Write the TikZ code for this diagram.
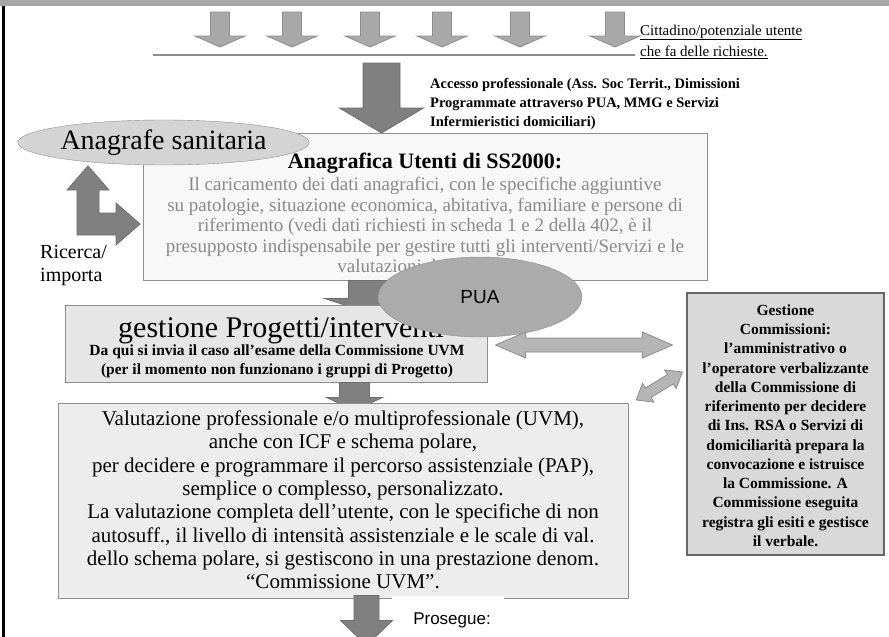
\documentclass[tikz,border=0pt]{standalone}
\usepackage{fontspec}
\setmainfont{Liberation Serif}
\setsansfont{Liberation Sans}
\usetikzlibrary{calc,shapes.geometric}

\definecolor{headerbar}{HTML}{A6A6A6}
\definecolor{lightarrow}{HTML}{A9A9A9}
\definecolor{lightarrowedge}{HTML}{8C8C8C}
\definecolor{darkarrow}{HTML}{808080}
\definecolor{darkarrowedge}{HTML}{6E6E6E}
\definecolor{ellfill}{HTML}{D4D4D4}
\definecolor{puafill}{HTML}{ABABAB}
\definecolor{boxedge}{HTML}{8F8F8F}
\definecolor{fadedtext}{HTML}{8A8A8A}
\definecolor{anagfill}{HTML}{F8F8F8}
\definecolor{gestfill}{HTML}{E6E6E6}
\definecolor{valfill}{HTML}{EDEDED}
\definecolor{commfill}{HTML}{D9D9D9}
\definecolor{dblfill}{HTML}{B5B5B5}

\tikzset{
  % downward block arrow: length, half shaft width, half head width, head length
  pics/vblock/.style n args={4}{code={
    \path[pic actions] (-#2,0) -- (#2,0) -- (#2,#1-#4) -- (#3,#1-#4) -- (0,#1)
      -- (-#3,#1-#4) -- (-#2,#1-#4) -- cycle;}},
  % two-headed block arrow along local x: length, half shaft, half head, head length
  pics/hdouble/.style n args={4}{code={
    \path[pic actions] (0,0) -- (#4,-#3) -- (#4,-#2) -- (#1-#4,-#2) -- (#1-#4,-#3)
      -- (#1,0) -- (#1-#4,#3) -- (#1-#4,#2) -- (#4,#2) -- (#4,#3) -- cycle;}},
  lightblock/.style={fill=lightarrow, draw=lightarrowedge, line width=0.8pt},
  darkblock/.style={fill=darkarrow, draw=darkarrowedge, line width=0.8pt},
  dblblock/.style={fill=dblfill, draw=lightarrowedge, line width=0.8pt},
  panel/.style={rectangle, draw=boxedge, line width=1pt, inner sep=0pt},
  txt/.style={inner sep=0pt, align=center},
}

\begin{document}
\begin{tikzpicture}[x=1pt,y=-1pt]
\path[use as bounding box, fill=white] (0,0) rectangle (889,637);

% header band and left rule
\fill[headerbar] (0,0) rectangle (889,6);
\fill[black] (2,6) rectangle (5,637);

% incoming requests
\foreach \ax in {220,292,370,442,520,615}
  \pic[lightblock] at (\ax,12) {vblock={35}{9.5}{25}{11}};
\coordinate (railL) at (153,55);
\coordinate (railR) at (635,55);
\draw[draw=lightarrowedge, line width=2pt] (railL) -- (railR);
\node[txt, align=left, anchor=west, font=\fontsize{15}{21}\selectfont] (cittadino) at (640,41.5)
  {\underline{Cittadino/potenziale utente}\\\underline{che fa delle richieste.}};

% professional access
\coordinate (feed) at (381.5,63);
\pic[darkblock] at (feed) {vblock={70}{18.5}{42}{25}};
\node[txt, align=left, anchor=west, font=\bfseries\fontsize{14.5}{19}\selectfont] (accesso) at (430,104)
  {Accesso professionale (Ass. Soc Territ., Dimissioni\\Programmate attraverso PUA, MMG e Servizi\\Infermieristici domiciliari)};

% user registry
\node[panel, fill=anagfill, minimum width=564pt, minimum height=147pt] (anag) at (425,206.5) {};
\node[txt, font=\bfseries\fontsize{22}{24}\selectfont] (anagtitle) at (425,163) {Anagrafica Utenti di SS2000:};
\node[txt, text=fadedtext, font=\fontsize{19}{20.5}\selectfont] (anagbody) at (425,225)
  {Il caricamento dei dati anagrafici, con le specifiche aggiuntive\\su patologie, situazione economica, abitativa, familiare e persone di\\riferimento (vedi dati richiesti in scheda 1 e 2 della 402, è il\\presupposto indispensabile per gestire tutti gli interventi/Servizi e le\\valutazioni dell'utente.};

\node[ellipse, draw=boxedge, fill=ellfill, minimum width=283pt, minimum height=45pt, inner sep=0pt,
  font=\fontsize{28}{30}\selectfont] (anagrafe) at (163.5,142.5) {Anagrafe sanitaria};

% search / import
\path[darkblock] (88,166) -- (109,190) -- (99,190) -- (99,213) -- (116,213) -- (116,203) -- (140,224)
  -- (116,245) -- (116,235) -- (77,235) -- (77,190) -- (67,190) -- cycle;
\node[txt, align=left, anchor=west, font=\fontsize{20}{23}\selectfont] (ricerca) at (40,265.5) {Ricerca/\\importa};

% projects
\pic[darkblock] at ($(anag.south west)+(225,0)$) {vblock={32}{19}{43}{14}};
\node[panel, fill=gestfill, minimum width=422pt, minimum height=77pt] (gest) at (276,343.5) {};
\node[txt, anchor=west, font=\fontsize{30}{32}\selectfont] (gesttitle) at (118,331) {gestione Progetti/interventi};
\node[txt, font=\bfseries\fontsize{15.5}{19}\selectfont] (gestnote) at (277,361.5)
  {Da qui si invia il caso all'esame della Commissione UVM\\(per il momento non funzionano i gruppi di Progetto)};

\node[ellipse, draw=boxedge, fill=puafill, minimum width=204pt, minimum height=80pt, inner sep=0pt,
  font=\sffamily\fontsize{19}{21}\selectfont] (pua) at (480,297) {PUA};

% commissions
\pic[dblblock] at ($(gest.east)+(8,1.5)$) {hdouble={177}{7}{13}{30}};
\node[panel, draw=black!60, line width=1.5pt, fill=commfill, minimum width=197pt, minimum height=262pt] (comm) at (785.5,424) {};
\node[txt, font=\bfseries\fontsize{15.5}{19.25}\selectfont] (commtext) at (785.5,425.5)
  {Gestione\\Commissioni:\\l'amministrativo o\\l'operatore verbalizzante\\della Commissione di\\riferimento per decidere\\di Ins. RSA o Servizi di\\domiciliarità prepara la\\convocazione e istruisce\\la Commissione. A\\Commissione eseguita\\registra gli esiti e gestisce\\il verbale.};
\pic[dblblock, rotate=31.3] at ($(comm.west)+(-50,-24)$) {hdouble={54}{5.5}{11}{14}};

% assessment
\pic[darkblock] at ($(gest.south west)+(290,0)$) {vblock={28}{15}{28}{13}};
\node[panel, fill=valfill, minimum width=570pt, minimum height=195pt] (val) at (343,500.5) {};
\node[txt, font=\fontsize{21}{23.3}\selectfont] (valtext) at (343,500)
  {Valutazione professionale e/o multiprofessionale (UVM),\\anche con ICF e schema polare,\\per decidere e programmare il percorso assistenziale (PAP),\\semplice o complesso, personalizzato.\\La valutazione completa dell'utente, con le specifiche di non\\autosuff., il livello di intensità assistenziale e le scale di val.\\dello schema polare, si gestiscono in una prestazione denom.\\“Commissione UVM”.};

% continuation
\node[fill=white, inner sep=0pt, minimum width=112pt, minimum height=42pt] (prosbg) at (448,617) {};
\node[txt, font=\sffamily\fontsize{17}{19}\selectfont] (prosegue) at (452,620) {Prosegue:};
\pic[darkblock] at ($(val.south west)+(309,-3)$) {vblock={50}{12.5}{26}{25}};
\end{tikzpicture}
\end{document}
